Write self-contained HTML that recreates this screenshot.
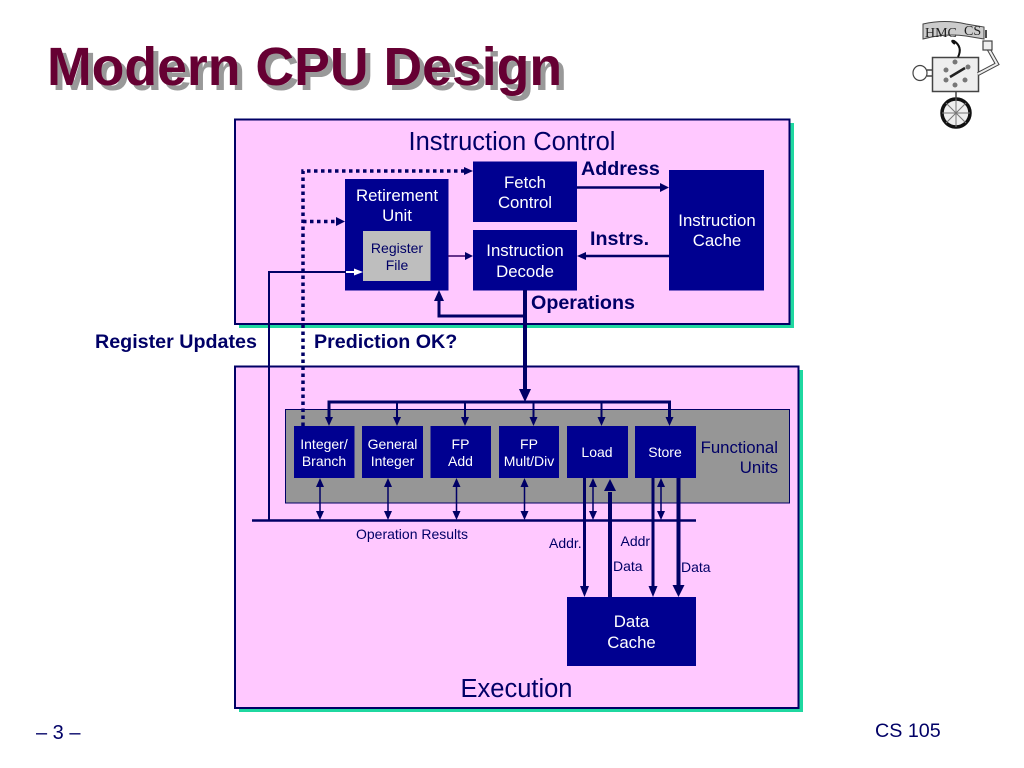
<!DOCTYPE html>
<html>
<head>
<meta charset="utf-8">
<style>
html,body{margin:0;padding:0;background:#fff;width:1024px;height:768px;overflow:hidden}
svg{display:block}
text{font-family:"Liberation Sans",sans-serif}
</style>
</head>
<body>
<svg width="1024" height="768" viewBox="0 0 1024 768" xmlns="http://www.w3.org/2000/svg">
<rect width="1024" height="768" fill="#fff"/>

<!-- Title -->
<text x="52" y="90" font-size="53.600" font-weight="bold" fill="#999">Modern CPU Design</text>
<text x="47" y="85" font-size="53.600" font-weight="bold" fill="#660033">Modern CPU Design</text>

<!-- Instruction control box -->
<rect x="239" y="123" width="555" height="205" fill="#1fd8a0"/>
<rect x="235" y="119.500" width="554.500" height="204.500" fill="#ffc8ff" stroke="#000066" stroke-width="2"/>

<!-- Execution box -->
<rect x="239" y="370" width="564" height="342" fill="#1fd8a0"/>
<rect x="235" y="366.500" width="563.500" height="341.500" fill="#ffc8ff" stroke="#000066" stroke-width="2"/>

<!-- Gray functional units -->
<rect x="285.500" y="409.500" width="504" height="93.500" fill="#969696" stroke="#000066" stroke-width="1"/>

<!-- Blocks -->
<g fill="#000090">
<rect x="473" y="161.500" width="104" height="60.500"/>
<rect x="473" y="230" width="104" height="60.500"/>
<rect x="345" y="179" width="103.500" height="111.500"/>
<rect x="669" y="170" width="95" height="120.500"/>
<rect x="294" y="426" width="60.500" height="52"/>
<rect x="362" y="426" width="61" height="52"/>
<rect x="430.500" y="426" width="60.500" height="52"/>
<rect x="499" y="426" width="60" height="52"/>
<rect x="567" y="426" width="61" height="52"/>
<rect x="635" y="426" width="61" height="52"/>
<rect x="567" y="597" width="129" height="69"/>
</g>
<rect x="363" y="231" width="67.500" height="50" fill="#bebebe"/>

<!-- Connectors -->
<g fill="none" stroke="#000066">
<path d="M303 426 V171 H465" stroke-width="3.500" stroke-dasharray="3.500 3.500"/>
<path d="M303 221.500 H337" stroke-width="3.500" stroke-dasharray="3.500 3.500"/>
<path d="M269 520 V272 H346" stroke-width="2"/>
<path d="M525 290 V390" stroke-width="4"/>
<path d="M525 316 H439 V300" stroke-width="3"/>
<path d="M448 256 H466" stroke-width="1.500" stroke="#330066"/>
<path d="M577 187.500 H661" stroke-width="2.500"/>
<path d="M669 256 H585" stroke-width="2.500"/>
<path d="M329 418 V402 H669.500 V418" stroke-width="3"/>
<path d="M397 402 V418 M465 402 V418 M533.500 402 V418 M601.500 402 V418" stroke-width="2"/>
<path d="M252 520.500 H696" stroke-width="2.500"/>
<path d="M320 486 V512 M388 486 V512 M456.500 486 V512 M524.500 486 V512 M593 486 V512 M661 486 V512" stroke-width="1.500"/>
<path d="M584.500 478 V588" stroke-width="3"/>
<path d="M610 597 V492" stroke-width="4"/>
<path d="M653 478 V588" stroke-width="3"/>
<path d="M678.500 478 V586" stroke-width="4"/>
</g>
<path d="M346 272 H356" stroke="#fff" stroke-width="2"/>
<g fill="#fff"><path d="M363 272 L354 268.500 V275.500 Z"/></g>

<!-- Arrowheads -->
<g fill="#000066">
<path d="M473 171 L464 167 V175 Z"/>
<path d="M345 221.500 L336 217 V226 Z"/>
<path d="M473 256 L465 252 V260 Z"/>
<path d="M669 187.500 L660 183 V192 Z"/>
<path d="M577 256 L586 252 V260 Z"/>
<path d="M439 290 L434 301 H444 Z"/>
<path d="M525 402 L519 389 H531 Z"/>
<path d="M329 426 L325 417 H333 Z"/>
<path d="M397 426 L393 417 H401 Z"/>
<path d="M465 426 L461 417 H469 Z"/>
<path d="M533.500 426 L529.500 417 H537.500 Z"/>
<path d="M601.500 426 L597.500 417 H605.500 Z"/>
<path d="M669.500 426 L665.500 417 H673.500 Z"/>
<path d="M320 478 L316 487 H324 Z M320 520 L316 511 H324 Z"/>
<path d="M388 478 L384 487 H392 Z M388 520 L384 511 H392 Z"/>
<path d="M456.500 478 L452.500 487 H460.500 Z M456.500 520 L452.500 511 H460.500 Z"/>
<path d="M524.500 478 L520.500 487 H528.500 Z M524.500 520 L520.500 511 H528.500 Z"/>
<path d="M593 478 L589 487 H597 Z M593 520 L589 511 H597 Z"/>
<path d="M661 478 L657 487 H665 Z M661 520 L657 511 H665 Z"/>
<path d="M584.500 597 L580 586 H589 Z"/>
<path d="M610 479 L604 491 H616 Z"/>
<path d="M653 597 L648.500 586 H657.500 Z"/>
<path d="M678.500 597 L672.500 585 H684.500 Z"/>
</g>

<!-- Large labels -->
<g fill="#000066" font-size="25.500" text-anchor="middle">
<text x="512" y="150">Instruction Control</text>
<text x="516.500" y="697">Execution</text>
</g>

<!-- White labels -->
<g fill="#fff" font-size="16.800" text-anchor="middle">
<text x="525" y="188">Fetch</text>
<text x="525" y="208">Control</text>
<text x="525" y="256">Instruction</text>
<text x="525" y="277">Decode</text>
<text x="397" y="201">Retirement</text>
<text x="397" y="221">Unit</text>
<text x="717" y="226">Instruction</text>
<text x="717" y="246">Cache</text>
<text x="631.500" y="627">Data</text>
<text x="631.500" y="648">Cache</text>
</g>
<g fill="#fff" font-size="14" text-anchor="middle">
<text x="324" y="449">Integer/</text>
<text x="324" y="466">Branch</text>
<text x="392.500" y="449">General</text>
<text x="392.500" y="466">Integer</text>
<text x="460.500" y="449">FP</text>
<text x="460.500" y="466">Add</text>
<text x="529" y="449">FP</text>
<text x="529" y="466">Mult/Div</text>
<text x="597" y="457">Load</text>
<text x="665" y="457">Store</text>
</g>
<g fill="#000066" font-size="14" text-anchor="middle">
<text x="397" y="253">Register</text>
<text x="397" y="270">File</text>
</g>

<!-- Bold labels -->
<g fill="#000066" font-size="19.700" font-weight="bold">
<text x="581" y="175">Address</text>
<text x="590" y="245">Instrs.</text>
<text x="531" y="309">Operations</text>
<text x="95" y="348">Register Updates</text>
<text x="314" y="348">Prediction OK?</text>
</g>

<!-- Plain labels -->
<g fill="#000066" font-size="16.800" text-anchor="end">
<text x="778" y="453">Functional</text>
<text x="778" y="473">Units</text>
</g>
<g fill="#000066" font-size="14">
<text x="356" y="539">Operation Results</text>
<text x="549" y="548">Addr.</text>
<text x="620.500" y="546">Addr</text>
<text x="613" y="571">Data</text>
<text x="681" y="572">Data</text>
</g>

<!-- Footer -->
<g fill="#000066">
<text x="36" y="739" font-size="20">– 3 –</text>
<text x="875" y="737" font-size="19.700">CS 105</text>
</g>

<!-- Logo -->
<g fill="none" stroke="#444">
<path d="M923 24 Q945 19 966 24 L984 27 V39 L966 36 Q945 33 923 39 Z" fill="#ccc" stroke-width="1"/>
<rect x="932.500" y="57.500" width="46" height="34" fill="#eee" stroke-width="1.500"/>
<path d="M955 44 Q950 40 954 41 Q963 47 958 57" stroke="#111" stroke-width="2"/>
<ellipse cx="920" cy="73" rx="7" ry="7.500" fill="#fff" stroke-width="1.200"/>
<path d="M927 70 H933 M927 76 H933" stroke-width="1.500"/>
<path d="M978 74 L997 64 L988 48" stroke-width="4"/>
<path d="M978 74 L997 64 L988 48" stroke="#eee" stroke-width="2"/>
<rect x="983" y="41" width="9" height="9" fill="#eee" stroke-width="1.200"/>
<path d="M986 30 V38" stroke="#111" stroke-width="1.500"/>
<circle cx="956" cy="113" r="14" fill="#eee" stroke="#111" stroke-width="3.500"/>
<path d="M956 99 V127 M942 113 H970 M946 103 L966 123 M966 103 L946 123" stroke="#777" stroke-width="1"/>
<path d="M956 91 V99" stroke-width="1.500"/>
<path d="M950 77 L965 68" stroke="#222" stroke-width="2.500"/>
</g>
<g fill="#777">
<circle cx="955" cy="62" r="2.500"/><circle cx="968" cy="67" r="2.500"/><circle cx="946" cy="70" r="2.500"/>
<circle cx="946" cy="80" r="2.500"/><circle cx="965" cy="80" r="2.500"/><circle cx="955" cy="85" r="2.500"/>
</g>
<g fill="#222" font-size="14">
<text x="925" y="37" style="font-family:'Liberation Serif',serif">HMC</text>
<text x="964" y="35" style="font-family:'Liberation Serif',serif">CS</text>
</g>
</svg>
</body>
</html>
